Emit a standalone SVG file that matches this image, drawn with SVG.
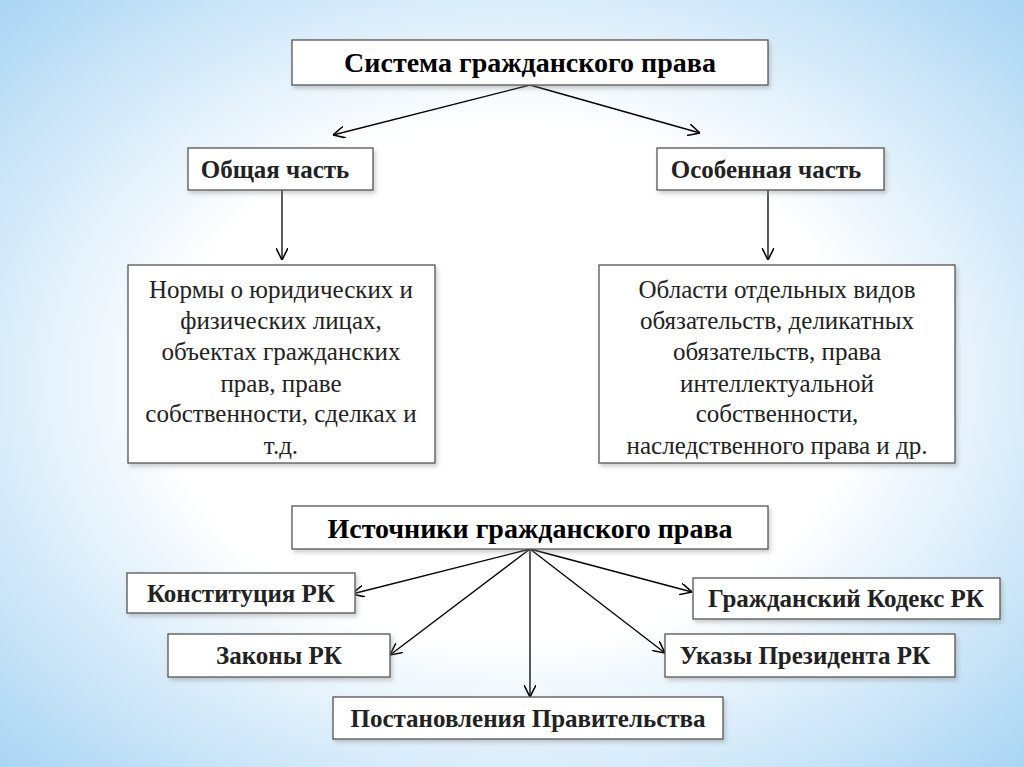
<svg xmlns="http://www.w3.org/2000/svg" width="1024" height="767" viewBox="0 0 1024 767">
<defs>
<radialGradient id="bg" cx="0.5" cy="0.5" r="0.75">
<stop offset="0.45" stop-color="#ffffff"/>
<stop offset="1" stop-color="#9fd0f2"/>
</radialGradient>
<marker id="ah" viewBox="0 0 10 10" refX="10" refY="5" markerWidth="12" markerHeight="12" markerUnits="userSpaceOnUse" orient="auto">
<path d="M0,0 L10,5 L0,10" fill="none" stroke="#000" stroke-width="1.3"/>
</marker>
<filter id="sh" x="-5%" y="-5%" width="115%" height="125%">
<feDropShadow dx="2" dy="3" stdDeviation="2" flood-color="#888" flood-opacity="0.4"/>
</filter>
</defs>
<style>
.b{fill:#fff;stroke:#555;stroke-width:1.3;filter:url(#sh)}
.t{font-family:"Liberation Serif",serif;font-size:28px;text-anchor:middle;fill:#000}
.h{font-weight:bold}
.m{font-size:25px;fill:#222}
.c line{stroke:#000;stroke-width:1.3;marker-end:url(#ah)}
</style>
<rect width="1024" height="767" fill="url(#bg)"/>
<g class="c">
<line x1="530" y1="85" x2="333" y2="135"/>
<line x1="530" y1="85" x2="700" y2="133"/>
<line x1="282" y1="190" x2="282" y2="260"/>
<line x1="768" y1="190" x2="768" y2="260"/>
<line x1="530" y1="549" x2="352" y2="594"/>
<line x1="530" y1="549" x2="390" y2="655"/>
<line x1="530" y1="549" x2="530" y2="697"/>
<line x1="530" y1="549" x2="665" y2="653"/>
<line x1="530" y1="549" x2="692" y2="592"/>
</g>
<g id="n1"><rect class="b" x="292" y="40" width="476" height="45"/><text class="t h" x="530" y="72">Система гражданского права</text></g>
<g id="n2"><rect class="b" x="188" y="148" width="185" height="42"/><text class="t h m" x="275" y="178">Общая часть</text></g>
<g id="n3"><rect class="b" x="657" y="148" width="227" height="42"/><text class="t h m" x="766" y="178">Особенная часть</text></g>
<g id="n4"><rect class="b" x="128" y="265" width="307" height="198"/>
<text class="t m" x="281" y="298">Нормы о юридических и</text>
<text class="t m" x="281" y="329">физических лицах,</text>
<text class="t m" x="281" y="360">объектах гражданских</text>
<text class="t m" x="281" y="392">прав, праве</text>
<text class="t m" x="281" y="422">собственности, сделках и</text>
<text class="t m" x="281" y="454">т.д.</text></g>
<g id="n5"><rect class="b" x="599" y="265" width="356" height="198"/>
<text class="t m" x="777" y="298">Области отдельных видов</text>
<text class="t m" x="777" y="329">обязательств, деликатных</text>
<text class="t m" x="777" y="360">обязательств, права</text>
<text class="t m" x="777" y="392">интеллектуальной</text>
<text class="t m" x="777" y="422">собственности,</text>
<text class="t m" x="777" y="454">наследственного права и др.</text></g>
<g id="n6"><rect class="b" x="292" y="506" width="476" height="43"/><text class="t h" x="530" y="538">Источники гражданского права</text></g>
<g id="n7"><rect class="b" x="127" y="573" width="228" height="40"/><text class="t h m" x="241" y="602">Конституция РК</text></g>
<g id="n8"><rect class="b" x="693" y="578" width="307" height="41"/><text class="t h m" x="846" y="607">Гражданский Кодекс РК</text></g>
<g id="n9"><rect class="b" x="168" y="634" width="222" height="43"/><text class="t h m" x="279" y="664">Законы РК</text></g>
<g id="n10"><rect class="b" x="665" y="634" width="290" height="43"/><text class="t h m" x="805" y="664">Указы Президента РК</text></g>
<g id="n11"><rect class="b" x="333" y="697" width="390" height="42"/><text class="t h m" x="528" y="727">Постановления Правительства</text></g>
</svg>
